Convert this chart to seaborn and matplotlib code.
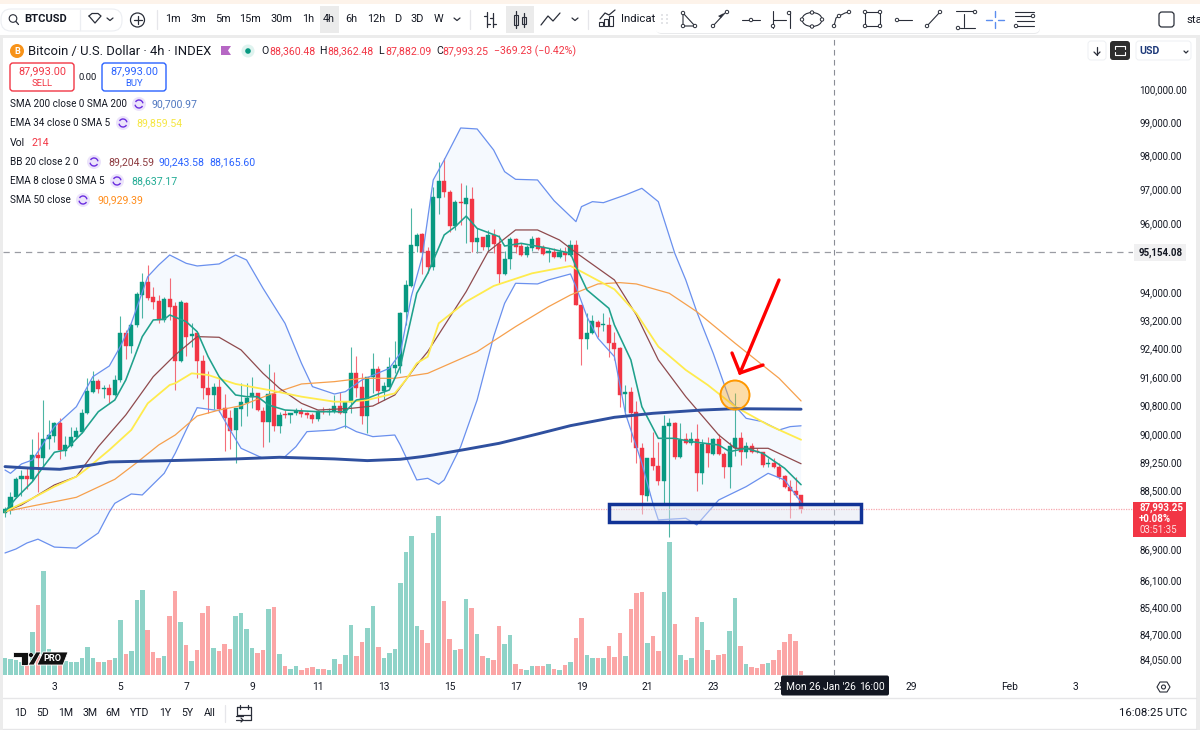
import numpy as np
import pandas as pd
import matplotlib
matplotlib.use("Agg")
import matplotlib.pyplot as plt
from matplotlib.patches import Rectangle, Circle, FancyBboxPatch, Polygon
import seaborn as sns

highs = [88046,88450,88837,89035,89127,89871,90082,90956,90403,90357,
 90467,89963,90220,90220,90697,91559,91773,91531,91373,91392,
 91652,93315,92918,93107,94011,94537,94778,94154,93915,93867,
 94413,93723,93771,93723,93107,92824,92213,91763,91420,91559,
 91113,90678,90743,91420,91438,91587,91160,90770,91960,91726,
 90632,90678,90587,90743,90724,90614,90605,90678,90770,90724,
 91095,91188,90928,92429,92185,91698,91605,92260,91904,91466,
 92166,92616,93438,94346,96430,95695,95695,95309,97070,97811,
 97930,96970,96675,97190,97120,97050,95840,95600,95795,95815,
 95650,95195,95600,95550,95405,95355,95620,95600,95355,95260,
 95260,95260,95310,95500,95500,93628,93390,93344,93202,93390,
 93277,92870,92429,91373,91327,90937,89762,89372,90082,89808,
 90541,90449,90357,90311,90037,90082,90293,89871,89927,89899,
 90018,89535,89808,91160,90082,89808,89762,89626,89535,89354,
 89354,89217,88900,88765,88837,88362]
lows = [87780,87850,88270,88333,88513,88747,88450,89127,89599,89808,
 89336,89417,89653,89899,90055,90568,91160,91160,91002,90863,
 91067,91466,92101,92279,92994,93249,93771,93504,93107,93155,
 93202,91234,92026,92185,92448,91577,90974,90605,90697,90632,
 89562,89599,89235,90247,90513,90724,90660,89653,89790,90110,
 90055,90449,90330,90541,90495,90449,90311,90385,90568,90541,
 90605,90568,90174,90587,91048,90284,90055,91141,90881,90956,
 91308,91698,91717,93060,94154,95164,94518,94537,94633,96263,
 96775,95745,95795,95940,95405,95165,95115,95215,95145,95115,
 94250,94490,94650,95115,95040,95020,95195,95215,95065,94855,
 94970,94970,94900,95040,93628,91930,92380,92805,92730,92900,
 92148,92073,90752,90632,89808,89235,87841,88207,89035,88630,
 88135,87245,89327,89354,89744,89717,88477,88648,89108,89444,
 89444,88810,88540,89417,89172,89354,89508,89490,89127,89108,
 89081,88783,88540,87735,88315,87882]
opens = [87868,87957,88315,88783,88882,88783,89444,89354,89880,89963,
 90311,89562,89690,89927,90082,90587,91188,91485,91262,91290,
 91095,91512,92824,92466,93060,93915,94288,93848,93743,93202,
 93800,93599,92045,93694,92739,92824,92054,91280,91095,91308,
 90724,90467,90119,90706,90863,91030,91160,90660,90357,91122,
 90247,90559,90550,90587,90642,90587,90550,90431,90651,90632,
 90651,90789,90587,90891,91717,91318,90513,91587,91810,91215,
 91327,91857,91904,93419,94183,95338,95666,95193,94730,96745,
 97246,96910,95920,96605,96555,96705,95455,95580,95290,95640,
 95380,94520,94960,95530,95335,95065,95270,95550,95290,95135,
 95165,95000,95155,95075,95355,93628,92672,92824,93155,93050,
 93060,92560,92400,91113,91170,90614,89644,88342,89363,89154,
 88747,90238,90311,89399,89871,89762,89890,88945,89735,89472,
 89871,89472,89108,89626,89908,89535,89690,89562,89517,89199,
 89235,89127,88864,88585,88468,88360.48]
closes = [87975,88315,88783,88882,88783,89444,89354,89880,89990,90311,
 89581,89717,89945,90092,90605,91206,91485,91262,91290,91095,
 91512,92824,92466,93070,93944,94288,93838,93714,93202,93800,
 93580,92045,93714,92730,92796,92045,91299,91095,91308,90706,
 90449,90110,90743,90891,91020,91141,90678,90357,91122,90247,
 90550,90541,90587,90642,90559,90550,90431,90660,90614,90651,
 90798,90587,90891,91717,91299,90513,91596,91810,91215,91336,
 91885,91923,93410,94202,95357,95647,95164,94730,96775,97246,
 96910,95910,96605,96575,96725,95455,95570,95290,95640,95380,
 94520,94960,95530,95310,95065,95310,95530,95240,95095,95175,
 95000,95165,95075,95355,93628,92672,92824,93164,93013,93088,
 92560,92373,91095,91170,90605,89644,88351,89363,89154,88738,
 90247,90311,89399,89853,89780,89871,88945,89735,89490,89871,
 89472,89108,89690,89908,89535,89690,89535,89535,89181,89235,
 89127,88855,88567,88468,88360,87993.25]
volumes = [1040,940,900,800,800,2600,4220,6240,1560,1000,
 900,840,800,760,1040,1680,1000,760,800,900,
 1000,3300,1240,1420,4500,5080,2680,1380,1040,1140,
 3540,5040,3160,1800,840,1480,3740,4140,1620,1440,
 1860,1560,3540,3700,2740,1620,1340,1480,3940,4080,
 1240,560,360,520,320,400,480,360,360,300,
 960,660,1180,3000,1140,1960,2820,4140,1680,1040,
 1340,1560,5520,7400,8360,2960,2680,1900,8500,9540,
 4460,2140,1480,1560,4540,4020,2440,1140,1040,900,
 2920,1860,2380,660,360,300,560,560,560,660,
 360,300,600,760,2200,3440,1180,1000,1040,1000,
 1720,1080,2520,1140,3940,4940,5000,1900,2340,1420,
 5000,7980,3060,1180,900,1000,3500,3160,1480,900,
 1180,1280,2640,4600,1720,660,480,420,660,700,
 900,1520,2000,2480,2040,214]

sma200_i = [0,5,10,15,19,30,42,50,60,66,72,76,78,84,90,97,103,111,118,127,133,145]
sma200_v = [89127,89082,89054,89154,89254,89290,89336,89381,89336,89290,89327,89399,89444,89599,89762,90018,90247,90477,90587,90678,90715,90701]
ema34_i = [0,5,9,13,15,19,23,26,30,31,34,37,42,48,54,60,63,66,71,73,75,77,79,84,89,96,103,105,111,115,119,124,128,133,139,145]
ema34_v = [87913,88270,88585,88855,89082,89581,90128,90863,91373,91420,91698,91652,91401,91234,91048,90909,90909,90956,91141,91512,91979,92166,93107,93723,94173,94537,94749,94585,94078,93390,92448,91792,91373,90770,90266,89860]
basis_i = [0,3,7,9,13,17,22,27,31,35,39,43,47,50,54,57,63,67,71,73,75,77,84,88,93,97,101,104,111,115,119,124,130,133,139,145]
basis_v = [87913,88091,88450,88630,88855,89671,90541,91605,92213,92730,92711,92354,91698,91280,90863,90678,90724,90789,91095,91512,91932,92307,94011,95164,95795,95795,95502,95135,94346,93344,92073,91048,89990,89626,89626,89205]
sma50_i = [0,5,10,13,20,24,28,31,35,39,43,48,54,60,65,71,77,86,93,99,103,108,112,115,121,126,133,141,145]
sma50_v = [87913,88064,88207,88297,88783,89235,89717,89990,90513,90678,90798,91095,91401,91466,91559,91559,91698,92307,93013,93580,93915,94231,94269,94231,93963,93438,92541,91559,90929]
ema8_i = [0,2,5,7,9,11,14,17,20,22,25,27,29,30,33,35,37,39,42,44,46,48,51,57,62,64,66,68,70,72,75,77,80,82,84,86,90,91,94,99,103,104,106,110,111,114,116,119,122,125,130,132,135,138,142,145]
ema8_v = [87913,88270,88720,89127,89517,89581,90037,90632,90956,91512,92730,93202,93221,93344,93155,92870,92166,91605,91095,91048,91048,90816,90678,90632,90632,90956,91002,91122,91234,91885,93963,94537,95650,95890,96200,95840,95600,95327,95405,95260,95115,94730,94059,93532,93060,92073,90770,89899,89899,89808,89717,89535,89626,89490,89082,88637]
upper_i = [0,1,3,5,7,9,13,16,19,21,23,26,28,30,33,35,39,42,44,47,51,54,56,60,62,65,70,72,74,76,78,80,83,86,89,91,93,97,100,104,105,107,109,113,116,119,122,124,126,129,132,135,138,141,143,145]
upper_v = [89035,88945,89199,89308,89762,90220,90770,91605,91904,92448,93107,94441,94778,95067,94826,94749,94807,95067,94922,94106,93107,91979,91327,91122,91188,91512,91838,92260,93867,95020,97266,97861,98820,98790,98160,97513,97285,97266,96655,96038,96478,96625,96595,96822,97019,96625,95115,94346,93438,92260,90956,90449,90357,90128,90220,90243]
lower_i = [0,2,4,6,9,13,17,19,20,23,25,29,31,33,35,39,41,43,47,51,53,55,60,62,64,67,71,72,75,77,79,80,83,86,89,91,93,97,99,103,104,106,108,111,113,116,118,119,124,126,130,135,139,142,145]
lower_v = [86811,86917,87076,87178,86967,86940,87342,87903,88135,88387,88360,88945,89490,90128,90743,90660,90128,89626,89354,89399,89671,90082,90128,90238,90082,89945,89990,89717,88765,88810,88648,88765,89671,90956,92730,93675,94250,94231,94346,94518,94154,93296,92683,92166,90587,89217,88135,87690,87735,87557,88225,88585,88945,88765,88165]

price_ticks = [100000,99000,98000,97000,96000,94000,93200,92400,91600,90800,90000,89250,88500,86900,86100,85400,84700,84050]
day_ticks_i = [9,21,33,45,57,69,81,93,105,117,129,141,165,183,195]
day_labels = ["3","5","7","9","11","13","15","17","19","21","23","25","29","Feb","3"]
last_price = 87993.25
hline_price = 95154.08
cross_i = 151
zone_i = [110, 155.9]
zone_p = [87640, 88130]

GREEN, RED = "#089981", "#f23645"
INK = "#131722"

sns.set_theme(style="white")
plt.rcParams["font.family"] = ["Roboto", "DejaVu Sans"]

fig = plt.figure(figsize=(12, 7.3), dpi=100, facecolor="white")
pos = [3/1200, 55/730, 1130/1200, 637/730]
xlim = (-0.364, 205.46)

df = pd.DataFrame({"i": np.arange(len(closes)), "o": opens, "h": highs, "l": lows, "c": closes, "vol": volumes})
df["dir"] = np.where(df.c >= df.o, "up", "down")

# volume pane underneath
axv = fig.add_axes(pos)
sns.barplot(data=df, x="i", y="vol", color="#8fd3c8", native_scale=True, width=0.82, ax=axv, linewidth=0, errorbar=None)
for patch, d in zip(axv.patches, df["dir"]):
    patch.set_facecolor("#8fd3c8" if d == "up" else "#fba6a6")
axv.set_xlim(*xlim); axv.set_ylim(0, 38220)
axv.axis("off")

ax = fig.add_axes(pos)
ax.patch.set_alpha(0)
ax.set_yscale("log")
ax.set_xlim(*xlim)
ax.set_ylim(83641, 101568)

# bollinger band
ax.fill(list(upper_i) + list(lower_i)[::-1], list(upper_v) + list(lower_v)[::-1],
        color="#f5f9fe", lw=0, zorder=1)

# candles
for d, col in (("up", GREEN), ("down", RED)):
    s = df[df.dir == d]
    ax.vlines(s.i, s.l, s.h, color=col, lw=0.8, alpha=0.72, zorder=2)
    ax.bar(s.i, (s.c - s.o).abs(), bottom=s[["o", "c"]].min(axis=1), width=0.74, color=col, lw=0.3, edgecolor=col, zorder=3)

# indicator lines
def line(i, v, col, w, z=4):
    sns.lineplot(x=i, y=v, color=col, linewidth=w, estimator=None, sort=False, legend=False, ax=ax, zorder=z)

line(upper_i, upper_v, "#6a90ee", 0.9)
line(lower_i, lower_v, "#6a90ee", 0.9)
line(sma50_i, sma50_v, "#f6a04d", 0.9)
line(basis_i, basis_v, "#8f4a4d", 0.9)
line(ema34_i, ema34_v, "#ffeb4d", 1.3)
line(ema8_i, ema8_v, "#1fa18c", 1.15)
line(sma200_i, sma200_v, "#2f509f", 2.1)

ax.axhline(hline_price, color="#9a9ca3", lw=0.9, dashes=(5, 4), zorder=2)
ax.axhline(last_price, color="#f7a7ad", lw=0.9, dashes=(1, 1), zorder=2)
ax.axvline(cross_i, color="#8a8d95", lw=0.8, dashes=(5, 4), zorder=5)

# support zone
ax.add_patch(Rectangle((zone_i[0], zone_p[0]), zone_i[1]-zone_i[0], zone_p[1]-zone_p[0],
                       fc="#e6e9f4", ec="#0c2f94", lw=2.5, alpha=0.98, zorder=6, fill=False))
ax.add_patch(Rectangle((zone_i[0], zone_p[0]), zone_i[1]-zone_i[0], zone_p[1]-zone_p[0],
                       fc="#dfe3f0", alpha=0.45, lw=0, zorder=5))

ax.set_yticks(price_ticks)
ax.set_yticklabels([f"{t:,.2f}" for t in price_ticks], fontsize=7.0, color=INK)
ax.minorticks_off()
ax.set_xticks(day_ticks_i)
ax.set_xticklabels(day_labels, fontsize=7.4, color=INK)
ax.yaxis.tick_right()
ax.tick_params(axis="y", length=0, pad=4.5)
ax.tick_params(axis="x", length=0, pad=5)
ax.set_xlabel(""); ax.set_ylabel("")
sns.despine(ax=ax, left=True, bottom=True, right=True, top=True)
ax.grid(False)

# ---- chrome overlay, in screen pixels ----
ui = fig.add_axes([0, 0, 1, 1], zorder=20)
ui.set_xlim(0, 1200); ui.set_ylim(730, 0); ui.axis("off"); ui.patch.set_alpha(0)

def T(x, y, s, size=7.8, color=INK, ha="left", weight="normal"):
    ui.text(x, y, s, fontsize=size, color=color, ha=ha, va="center", fontweight=weight)
def L(xs, ys, color="#2a2e39", lw=0.9, z=3):
    ui.plot(xs, ys, color=color, lw=lw, solid_capstyle="round", zorder=z)
def R(x, y, w, h, fc, ec="none", lw=0, z=1):
    ui.add_patch(Rectangle((x, y), w, h, fc=fc, ec=ec, lw=lw, zorder=z))
def RR(x, y, w, h, fc="white", ec="#e0e3eb", lw=0.8, rad=3, z=2):
    ui.add_patch(FancyBboxPatch((x+rad, y+rad), w-2*rad, h-2*rad, boxstyle=f"round,pad={rad}",
                                fc=fc, ec=ec, lw=lw, zorder=z))
def dot(x, y, r=1.8, z=4, ec="#2a2e39"):
    ui.add_patch(Circle((x, y), r, fc="white", ec=ec, lw=0.7, zorder=z))

# frame bands
R(0, 0, 1200, 3.5, "#fdf3ea")
R(0, 35, 1200, 2.5, "#ececec")
R(0, 36, 3, 694, "#ececec")
R(1196, 36, 4, 694, "#ececec")
L([3, 1196], [698, 698], color="#e6e6e8", lw=1)
L([3, 1196], [729, 729], color="#e6e6e8", lw=1)

# top toolbar
RR(1, 9, 121, 22, ec="#eceef2", rad=10)
L([80, 80], [10, 30], color="#eceef2")
ui.add_patch(Circle((13, 18.5), 3.8, fc="none", ec="#2a2e39", lw=0.8, zorder=3))
L([16, 18.5], [21.5, 24.5])
T(24, 19.5, "BTCUSD", 8.0, weight="bold")
L([89, 92, 98, 101, 95, 89], [16, 13.5, 13.5, 16, 23, 16])
L([107, 110, 113], [18, 20.5, 18])
ui.add_patch(Circle((137.5, 20), 7, fc="none", ec="#2a2e39", lw=0.9, zorder=3))
L([133.5, 141.5], [20, 20]); L([137.5, 137.5], [16, 24])
L([157, 157], [10, 29], color="#e6e6ea")
R(320, 6, 19, 27, "#ebebeb")
for x, s in zip([173, 198, 223, 250, 281, 308, 329, 351, 376, 398, 417, 438],
                ["1m", "3m", "5m", "15m", "30m", "1h", "4h", "6h", "12h", "D", "3D", "W"]):
    T(x, 19.5, s, 7.8, ha="center")
L([454, 457, 460], [18, 20.5, 18])
L([470, 470], [10, 29], color="#e6e6ea")
L([487, 487], [12, 27]); L([484, 487], [16, 16]); L([487, 490], [24, 24])
L([493, 493], [13, 27]); L([490, 493], [18, 18]); L([493, 496], [24, 24])
R(506, 6, 28, 27, "#ebebeb")
for x, y0, y1 in [(516, 15, 25), (524, 17, 24)]:
    ui.add_patch(Rectangle((x-2, y0), 4, y1-y0, fc="none", ec="#2a2e39", lw=0.8, zorder=3))
    L([x, x], [y0-4, y1+3])
L([541, 548, 553, 560], [25, 16, 21, 13])
L([572, 575, 578], [18, 20.5, 18])
L([588, 588], [10, 29], color="#e6e6ea")
for x, h in [(601, 4), (606, 7), (611, 10)]:
    ui.add_patch(Rectangle((x-2, 26-h), 4, h, fc="none", ec="#2a2e39", lw=0.8, zorder=3))
L([600, 605, 609, 615], [19, 13, 15, 10])
T(621, 19.5, "Indicators", 8.2)
T(1186, 20, "sta", 8.2)
RR(1159, 12, 15, 15, ec="#2a2e39", lw=0.9, rad=3)

# floating drawing toolbar
RR(656, 7, 384, 27, fc="#e9eaec", ec="none", rad=6, z=3)
RR(655, 5, 385, 28, fc="white", ec="none", rad=6, z=4)
def iL(xs, ys, color="#2a2e39", lw=0.8):
    L(xs, ys, color=color, lw=lw, z=5)
def iD(x, y):
    dot(x, y, 1.7, z=6)
for x in (662, 667):
    for y in (15, 19, 23):
        ui.add_patch(Circle((x, y), 0.7, fc="#b8bbc2", ec="none", zorder=5))
iL([683, 683, 695, 683], [13, 26, 26, 13]); [iD(*p) for p in [(683, 13), (683, 26), (695, 26)]]
iL([713, 725], [26, 13]); iD(713, 26); iD(727, 12)
ui.add_patch(Polygon([[724, 13], [721, 18], [718, 16]], fc="#2a2e39", ec="none", zorder=5))
iL([742, 760], [20, 20]); iD(751, 20)
iL([773, 773], [11, 28]); iL([789.5, 789.5], [11, 28]); iL([773, 786], [20, 20]); iD(773, 26); iD(789, 13)
ui.add_patch(matplotlib.patches.Ellipse((812, 19.5), 20, 14, fc="none", ec="#2a2e39", lw=0.8, zorder=5))
[iD(*p) for p in [(802, 19.5), (822, 19.5), (812, 12.5), (812, 26.5)]]
iL([834, 836, 839, 845, 849], [26, 18, 16, 13, 12]); [iD(*p) for p in [(834, 26), (839, 16), (849, 12)]]
ui.add_patch(Rectangle((865, 12), 15, 14, fc="none", ec="#2a2e39", lw=0.8, zorder=5))
[iD(*p) for p in [(865, 12), (880, 12), (865, 26), (880, 26)]]
iL([897, 912], [20, 20]); iD(897, 20)
iL([927, 940], [26, 12]); iD(927, 26); iD(940, 12)
iL([956, 973], [11, 11]); iL([960, 975], [28, 28]); iL([964, 964], [14, 27]); iD(975, 12); iD(958, 28)
for a, b in [([986, 992], [19.5, 19.5]), ([998, 1004], [19.5, 19.5]), ([995, 995], [11, 17]), ([995, 995], [22, 28])]:
    iL(a, b, color="#5b8def", lw=1)
iL([1015, 1034], [12, 12]); iL([1015, 1033], [16, 16]); iL([1017, 1034], [20.5, 20.5]); iL([1017, 1034], [26, 26])
iD(1033, 16); iD(1016, 26)

# legend header
ui.add_patch(Circle((17, 51), 7, fc="#f7931a", ec="none", zorder=3))
ui.text(17, 51, "B", fontsize=6.5, color="white", ha="center", va="center", fontweight="bold", zorder=4)
T(28, 51, "Bitcoin / U.S. Dollar · 4h · INDEX", 9.4)
ui.add_patch(Polygon([[221, 46], [231, 46], [228, 50.5], [231, 55], [221, 55]], fc="#b667c4", ec="none", zorder=3))
ui.add_patch(Circle((248, 51), 6.5, fc="#dff3ef", ec="none", zorder=3))
ui.add_patch(Circle((248, 51), 2.8, fc="#089981", ec="none", zorder=4))
for x, s in [(261, "O"), (319.5, "H"), (378, "L"), (436, "C")]:
    T(x, 51.5, s, 7.6)
for x, s in [(269, "88,360.48"), (327, "88,362.48"), (385, "87,882.09"), (442, "87,993.25"), (494, "−369.23 (−0.42%)")]:
    T(x, 51.5, s, 7.6, color=RED)

RR(10, 63, 64, 28, ec=RED, lw=1, rad=3)
T(42, 71.5, "87,993.00", 7.8, color=RED, ha="center"); T(42, 83, "SELL", 6.8, color=RED, ha="center")
T(88, 77, "0.00", 6.8, ha="center")
RR(102, 63, 64, 28, ec="#2962ff", lw=1, rad=3)
T(134, 71.5, "87,993.00", 7.8, color="#2962ff", ha="center"); T(134, 83, "BUY", 6.8, color="#2962ff", ha="center")

rows = [(104, "SMA 200 close 0 SMA 200", 139, [(152, "90,700.97", "#4f77c0")]),
        (123, "EMA 34 close 0 SMA 5", 123, [(136, "89,859.54", "#f5e642")]),
        (162, "BB 20 close 2 0", 94, [(108, "89,204.59", "#8c3a3f"), (158.5, "90,243.58", "#2962ff"), (209.5, "88,165.60", "#2962ff")]),
        (181, "EMA 8 close 0 SMA 5", 117, [(131, "88,637.17", "#22ab94")]),
        (200, "SMA 50 close", 83, [(97, "90,929.39", "#ff8c1a")])]
for y, name, ix, vals in rows:
    T(10, y, name, 7.1)
    ui.add_patch(Circle((ix, y), 7, fc="#ece4fb", ec="none", zorder=3))
    ui.add_patch(matplotlib.patches.Arc((ix, y), 8, 8, theta1=30, theta2=170, ec="#6a2de0", lw=1, zorder=4))
    ui.add_patch(matplotlib.patches.Arc((ix, y), 8, 8, theta1=210, theta2=350, ec="#6a2de0", lw=1, zorder=4))
    for x, s, c in vals:
        T(x, y, s, 7.6, color=c)
T(10, 143, "Vol", 7.6); T(31, 143, "214", 7.6, color=RED)

# top-right controls
RR(1088, 41, 18, 19, ec="#eef0f3", lw=0.7, rad=3)
L([1097, 1097], [47, 55]); L([1094, 1097, 1100], [52, 55, 52])
RR(1110, 41, 20, 19, fc="#2e2e2e", ec="none", rad=3)
L([1115, 1115, 1125, 1125], [49, 46, 46, 49], color="white", lw=0.8)
L([1115, 1115, 1125, 1125], [52, 55, 55, 52], color="white", lw=0.8)
RR(1136, 41, 55, 19, ec="#eef0f3", lw=0.7, rad=3)
T(1139, 51, "USD", 7.6, weight="bold", color="#1e3a7a")
L([1184, 1186, 1188], [51, 53, 51])

# price tags
R(1134, 244, 52, 17, "#f0f0f1", z=3)
ui.text(1139, 252.5, f"{hline_price:,.2f}", fontsize=7.0, color=INK, fontweight="bold", ha="left", va="center", zorder=4)
R(1133, 502, 53, 35, "#f23645", z=3)
for y, s, w, c in [(507.5, "87,993.25", "bold", "white"), (518.5, "+0.08%", "bold", "white"), (530, "03:51:35", "normal", "#fde3e5")]:
    ui.text(1139, y, s, fontsize=7.0, color=c, fontweight=w, ha="left", va="center", zorder=4)

# crosshair time tag
RR(781, 675.5, 108, 20, fc="#131722", ec="none", rad=2, z=6)
ui.text(786, 687, "Mon 26 Jan '26", fontsize=7.4, color="white", ha="left", va="center", zorder=7)
ui.text(859, 687, "16:00", fontsize=7.4, color="white", ha="left", va="center", zorder=7)
ui.add_patch(Polygon([[1157, 687], [1160, 682], [1167, 682], [1170, 687], [1167, 692], [1160, 692]], fc="none", ec="#2a2e39", lw=0.8))
ui.add_patch(Circle((1163.5, 687), 2, fc="none", ec="#2a2e39", lw=0.8))

# bottom bar
for x, s in zip([21, 43, 66, 90, 113, 140, 165, 187, 210], ["1D", "5D", "1M", "3M", "6M", "YTD", "1Y", "5Y", "All"]):
    T(x, 713.5, s, 7.6, ha="center")
L([225, 225], [705, 722], color="#e6e6ea")
L([251, 237, 237], [715, 715, 707]); L([237, 251, 251, 244], [707, 707, 720, 720]); L([240, 240], [705, 709]); L([248, 248], [705, 709])
L([236, 243], [716, 716]); L([236, 243], [720, 720]); L([241, 243, 241], [718, 720, 722])
T(1187, 713.5, "16:08:25 UTC", 8.2, ha="right")

# TV PRO logo
ui.add_patch(Polygon([[13, 652], [28, 652], [28, 665], [21, 665], [21, 657], [13, 657]], fc="#111", ec="white", lw=0.6, zorder=8))
ui.add_patch(Circle((31, 655), 2.4, fc="#111", ec="white", lw=0.4, zorder=8))
ui.add_patch(Polygon([[28, 665], [36, 652], [41, 652], [34, 665]], fc="#111", ec="white", lw=0.6, zorder=8))
ui.add_patch(Polygon([[37, 665], [43, 652], [68, 652], [63, 665]], fc="#111", ec="white", lw=0.6, zorder=8))
ui.text(52.5, 658.5, "PRO", fontsize=6.6, color="white", ha="center", va="center", fontweight="bold", zorder=9)

# orange circle and red arrow annotation
ui.add_patch(Circle((735, 395), 14.5, fc="#f9a825", ec="#ff9800", lw=1.3, alpha=0.4, zorder=6))
ui.add_patch(Circle((735, 395), 14.5, fc="none", ec="#ff9800", lw=1.3, zorder=6))
ui.plot([779, 740], [280, 373], color="#ff0000", lw=2.4, solid_capstyle="round", zorder=7)
ui.plot([732, 740, 763], [353, 373, 365], color="#ff0000", lw=2.4, solid_capstyle="round", solid_joinstyle="miter", zorder=7)

fig.savefig("out.png", dpi=100)
